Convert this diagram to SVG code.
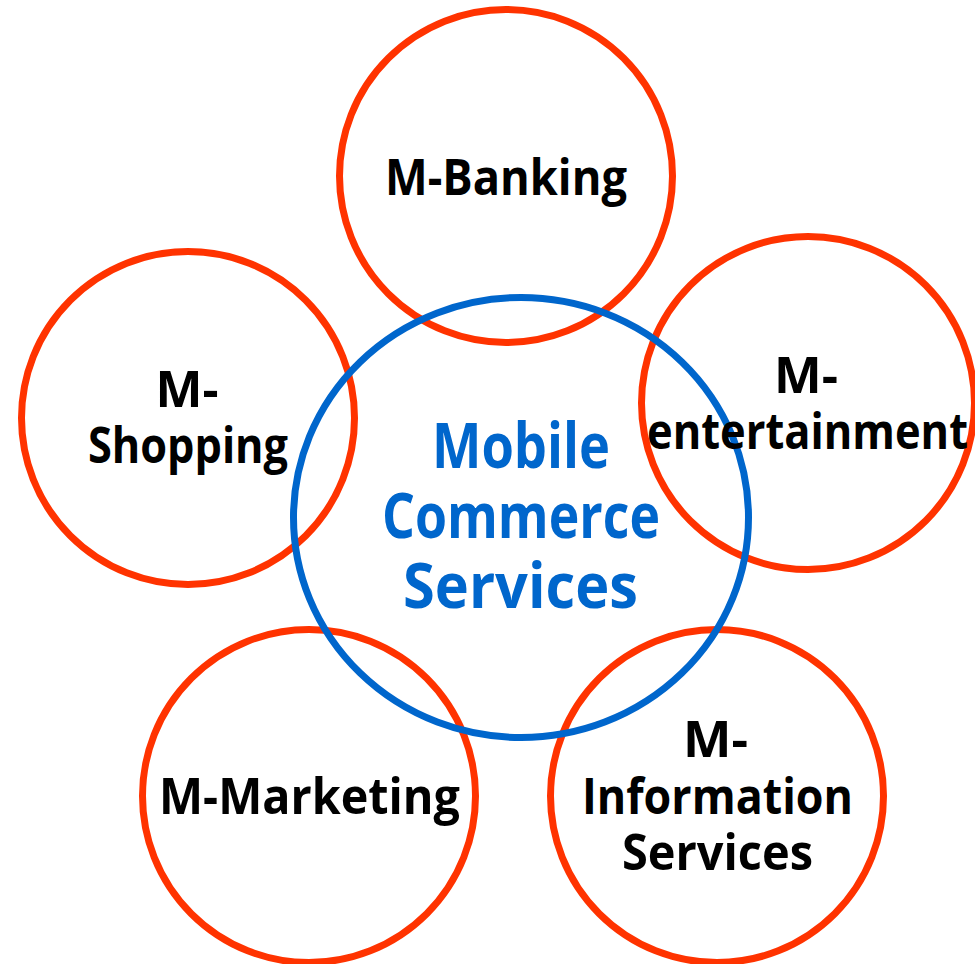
<svg xmlns="http://www.w3.org/2000/svg" width="975" height="964" viewBox="0 0 975 964">
<style>
.bg{fill:#ffffff}
.sat{fill:none;stroke:#FF3300;stroke-width:7}
.hub{fill:none;stroke:#0066CC;stroke-width:7}
.lbl{font-family:"Open Sans","DejaVu Sans",sans-serif;font-weight:bold;font-size:50px;fill:#000000;text-anchor:middle}
.hubt{font-family:"Open Sans","DejaVu Sans",sans-serif;font-weight:bold;font-size:62px;fill:#0066CC;text-anchor:middle}
</style>
<rect class="bg" x="0" y="0" width="975" height="964"/>
<g id="m-banking">
<circle class="sat" cx="506" cy="176" r="166.5"/>
</g>
<g id="m-shopping">
<circle class="sat" cx="188" cy="418" r="166.5"/>
</g>
<g id="m-entertainment">
<circle class="sat" cx="808" cy="403" r="166.5"/>
</g>
<g id="m-marketing">
<circle class="sat" cx="309" cy="796" r="166.5"/>
</g>
<g id="m-information">
<circle class="sat" cx="717" cy="796" r="166.5"/>
</g>
<g id="hub">
<ellipse class="hub" cx="521" cy="517.5" rx="227.5" ry="220"/>
<text class="hubt" x="521" y="468" textLength="178" lengthAdjust="spacingAndGlyphs">Mobile</text>
<text class="hubt" x="521" y="538" textLength="278" lengthAdjust="spacingAndGlyphs">Commerce</text>
<text class="hubt" x="520.5" y="608" textLength="235" lengthAdjust="spacingAndGlyphs">Services</text>
</g>
<g id="labels">
<text class="lbl" x="506" y="195" textLength="242" lengthAdjust="spacingAndGlyphs">M-Banking</text>
<text class="lbl" x="187" y="407" textLength="63" lengthAdjust="spacingAndGlyphs">M-</text>
<text class="lbl" x="188" y="463" textLength="200" lengthAdjust="spacingAndGlyphs">Shopping</text>
<text class="lbl" x="806" y="393" textLength="64" lengthAdjust="spacingAndGlyphs">M-</text>
<text class="lbl" x="807.5" y="449" textLength="321" lengthAdjust="spacingAndGlyphs">entertainment</text>
<text class="lbl" x="309.5" y="814" textLength="301" lengthAdjust="spacingAndGlyphs">M-Marketing</text>
<text class="lbl" x="715.5" y="757" textLength="65" lengthAdjust="spacingAndGlyphs">M-</text>
<text class="lbl" x="717.5" y="814" textLength="271" lengthAdjust="spacingAndGlyphs">Information</text>
<text class="lbl" x="717.5" y="870" textLength="191" lengthAdjust="spacingAndGlyphs">Services</text>
</g>
<g id="connectors"></g>
</svg>
